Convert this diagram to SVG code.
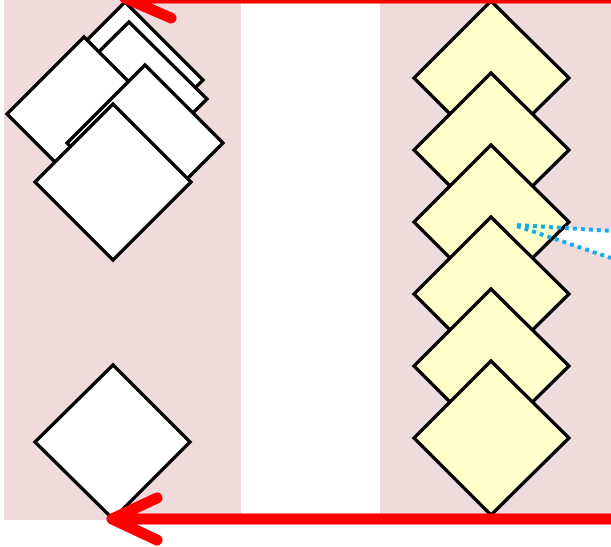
<svg xmlns="http://www.w3.org/2000/svg" width="611" height="547" viewBox="0 0 611 547">
<style>
.bg{fill:#f0dbdc}
.w{fill:#ffffff;stroke:#000;stroke-width:3.4;stroke-linejoin:miter}
.y{fill:#ffffcc;stroke:#000;stroke-width:3.4;stroke-linejoin:miter}
.red{fill:none;stroke:#ff0000;stroke-width:11;stroke-linecap:round;stroke-linejoin:round}
.dot{fill:none;stroke:#12aee8;stroke-width:4;stroke-dasharray:4 4}
</style>
<rect width="611" height="547" fill="#ffffff"/>
<g id="lanes">
<rect class="bg" x="4" y="0" width="237" height="520"/>
<rect class="bg" x="380" y="0" width="231" height="520"/>
</g>
<polygon points="517,225 611,231 611,258" fill="#ffffff"/>
<g id="node-a"><polygon class="w" points="125,2 203,80 125,158 47,80"/></g>
<g id="node-b"><polygon class="w" points="129,22 207,99 129,176 51,99"/></g>
<g id="node-c"><polygon class="w" points="84,37 161,114 84,191 7,114"/></g>
<g id="node-d"><polygon class="w" points="145,65 223,143 145,221 67,143"/></g>
<g id="node-e"><polygon class="w" points="113,104 191,182 113,260 35,182"/></g>
<g id="node-f"><polygon class="w" points="113,365 190,442 113,519 35,442"/></g>
<g id="node-y1"><polygon class="y" points="491,1 569,78 491,155 414,78"/></g>
<g id="node-y2"><polygon class="y" points="491,73 569,150 491,227 414,150"/></g>
<g id="node-y3"><polygon class="y" points="491,145 569,222 491,299 414,222"/></g>
<g id="node-y4"><polygon class="y" points="491,217 569,294 491,371 414,294"/></g>
<g id="node-y5"><polygon class="y" points="491,289 569,366 491,443 414,366"/></g>
<g id="node-y6"><polygon class="y" points="491,361 569,438 491,515 414,438"/></g>
<g id="connectors">
<path class="dot" d="M517,225 L611,231"/>
<path class="dot" d="M517,226 L611,258"/>
<path class="red" d="M616,-2 L125,-2 M171,18 L125,-2 L171,-22"/>
<path class="red" d="M616,519 L112,519 M157,498 L112,519 L157,540"/>
</g>
</svg>
